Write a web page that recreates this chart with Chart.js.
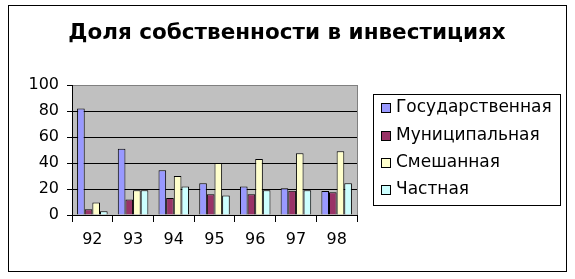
<!DOCTYPE html>
<html>
<head>
<meta charset="utf-8">
<script src="https://cdn.jsdelivr.net/npm/chart.js@4/dist/chart.umd.min.js"></script>
<style>
html,body{margin:0;padding:0;background:#fff;}
canvas{display:block;}
</style>
</head>
<body>
<canvas id="c" width="575" height="279"></canvas>
<script>
const categories = ['92','93','94','95','96','97','98'];
const seriesNames = ['Государственная','Муниципальная','Смешанная','Частная'];
const gosValues = [82, 51, 34.5, 24.5, 22, 20.5, 18.5];
const munValues = [4.5, 12, 13, 16, 16, 18.7, 17.5];
const mixValues = [9.7, 19, 30, 40, 43, 47.5, 49];
const privValues = [2.8, 19, 22, 15, 19, 19, 24.5];
const yTicks = [0, 20, 40, 60, 80, 100];
const titleText = 'Доля собственности в инвестициях';

const colors = ['#9999FF', '#993366', '#FFFFCC', '#CCFFFF'];
const valueSets = [gosValues, munValues, mixValues, privValues];

const FONT = '"DejaVu Sans", Verdana, sans-serif';

const decor = {
  id: 'decor',
  beforeDraw(chart) {
    const ctx = chart.ctx;
    const a = chart.chartArea;
    ctx.save();
    ctx.fillStyle = '#fff';
    ctx.fillRect(0, 0, chart.width, chart.height);
    ctx.fillStyle = '#C0C0C0';
    ctx.fillRect(a.left, a.top, a.right - a.left, a.bottom - a.top);
    ctx.restore();
  },
  afterDraw(chart) {
    const ctx = chart.ctx;
    const a = chart.chartArea;
    ctx.save();
    ctx.strokeStyle = '#808080';
    ctx.lineWidth = 1;
    ctx.beginPath();
    ctx.moveTo(Math.round(a.right) + 0.5, a.top);
    ctx.lineTo(Math.round(a.right) + 0.5, a.bottom);
    ctx.stroke();
    ctx.strokeStyle = '#000';
    ctx.strokeRect(8.5, 5.5, 558, 266);
    ctx.fillStyle = '#000';
    ctx.font = 'bold 21.5px ' + FONT;
    ctx.textAlign = 'center';
    ctx.textBaseline = 'middle';
    ctx.fillText(titleText, 287, 33);
    ctx.strokeRect(373.5, 94.5, 187, 111);
    const ys = [108, 136, 163, 190];
    ctx.font = '17px ' + FONT;
    ctx.textAlign = 'left';
    chart.data.datasets.forEach((ds, i) => {
      const y = ys[i];
      ctx.fillStyle = ds.backgroundColor;
      ctx.fillRect(381, y - 5, 10, 10);
      ctx.strokeStyle = '#000';
      ctx.strokeRect(381.5, y - 4.5, 9, 9);
      ctx.fillStyle = '#000';
      ctx.fillText(ds.label, 396, y);
    });
    ctx.restore();
  }
};

new Chart(document.getElementById('c'), {
  type: 'bar',
  data: {
    labels: categories,
    datasets: seriesNames.map((name, i) => ({
      label: name,
      data: valueSets[i],
      backgroundColor: colors[i],
      borderColor: '#000',
      borderWidth: 1,
      categoryPercentage: 0.75,
      barPercentage: 1.0
    }))
  },
  options: {
    responsive: false,
    animation: false,
    devicePixelRatio: 1,
    layout: { padding: { left: 0, right: 218, top: 85, bottom: 0 } },
    plugins: {
      legend: { display: false },
      title: { display: false },
      tooltip: { enabled: false }
    },
    scales: {
      x: {
        offset: true,
        grid: { display: true, drawOnChartArea: false, drawTicks: true, tickLength: 7, color: '#000', offset: true },
        border: { display: true, color: '#000', width: 1 },
        ticks: { color: '#000', font: { family: FONT, size: 16 }, padding: 8, maxRotation: 0 },
        afterFit(scale) { scale.height = 64; }
      },
      y: {
        min: 0,
        max: 100,
        afterBuildTicks(scale) { scale.ticks = yTicks.map(v => ({ value: v })); },
        grid: {
          color: (c) => (c.tick && c.tick.value === 100) ? '#808080' : '#000',
          tickColor: '#000',
          tickLength: 5,
          drawTicks: true
        },
        border: { display: true, color: '#000', width: 1 },
        ticks: { color: '#000', font: { family: FONT, size: 16 }, padding: 8 },
        afterFit(scale) { scale.width = 72; }
      }
    }
  },
  plugins: [decor]
});
</script>
</body>
</html>
